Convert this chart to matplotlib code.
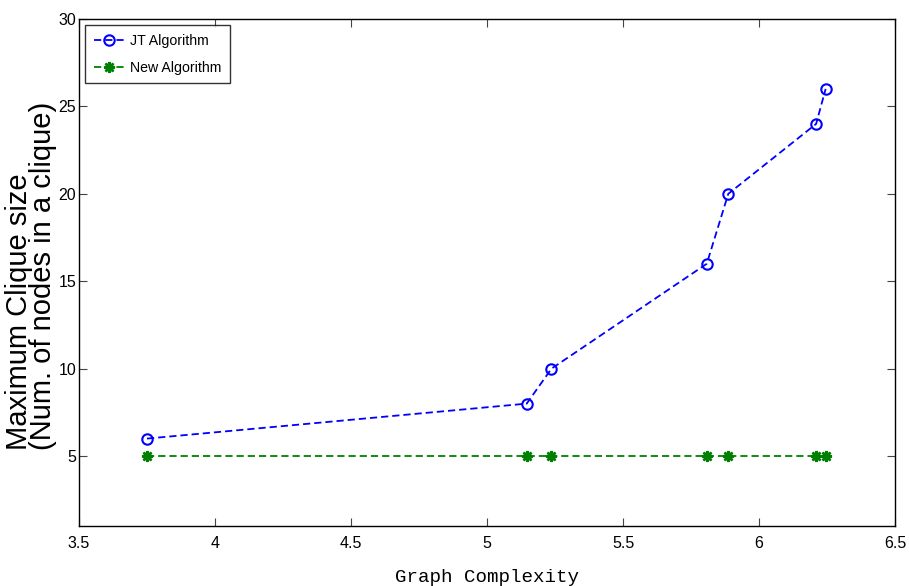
import matplotlib
matplotlib.use("Agg")
import matplotlib.pyplot as plt
from matplotlib import font_manager as fm

graph_complexity = [3.75, 5.146, 5.237, 5.808, 5.887, 6.21, 6.245]
jt_algorithm = [6, 8, 10, 16, 20, 24, 26]
new_algorithm = [5, 5, 5, 5, 5, 5, 5]
x_ticks = [3.5, 4, 4.5, 5, 5.5, 6, 6.5]
x_tick_labels = ["3.5", "4", "4.5", "5", "5.5", "6", "6.5"]
y_ticks = [5, 10, 15, 20, 25, 30]
y_tick_labels = ["5", "10", "15", "20", "25", "30"]

names = {f.name for f in fm.fontManager.ttflist}
narrow = "Liberation Sans Narrow" if "Liberation Sans Narrow" in names else "Liberation Sans"

W, H = 909, 586
fig = plt.figure(figsize=(W / 100, H / 100), dpi=100)
ax = fig.add_axes([79 / W, 1 - 526 / H, (895 - 79) / W, (526 - 19) / H])

ax.plot(graph_complexity, jt_algorithm, color=(0, 0, 1), linestyle=(0, (4, 2.2)),
        linewidth=1.3, marker="o", markersize=7.5, markerfacecolor="none",
        markeredgewidth=1.5, label="JT Algorithm")
ax.plot(graph_complexity, new_algorithm, color=(0, 0.5, 0), linestyle=(0, (4, 2.2)),
        linewidth=1.3, marker=(8, 2, 0), markersize=8,
        markeredgewidth=1.8, label="New Algorithm")

ax.set_xlim(3.5, 6.5)
ax.set_ylim(1, 30)
ax.set_xticks(x_ticks)
ax.set_xticklabels(x_tick_labels, family="Liberation Sans", fontsize=11.5)
ax.set_yticks(y_ticks)
ax.set_yticklabels(y_tick_labels, family="Liberation Sans", fontsize=11.5)
ax.tick_params(direction="in", length=6, width=0.8, color="#444444",
               top=True, right=True, pad=7)
ax.tick_params(axis="y", pad=2)
for s in ax.spines.values():
    s.set_linewidth(1.0)
    s.set_color("black")

fig.text(487 / W, 1 - 578 / H, "Graph Complexity", family="Liberation Mono",
         fontsize=13.8, ha="center", va="center")
fig.text(31 / W, 1 - 276 / H, "Maximum Clique size\n(Num. of nodes in a clique)",
         family="Liberation Sans", fontsize=21, rotation=90, ha="center",
         va="center", multialignment="left", linespacing=0.86)

leg = ax.legend(loc="upper left", bbox_to_anchor=(6 / (895 - 79), 1 - 6 / 507),
                prop={"family": narrow, "size": 10.2}, frameon=True, fancybox=False,
                edgecolor="black", borderaxespad=0, handlelength=2.2,
                handletextpad=0.4, borderpad=0.6, labelspacing=0.95)
leg.get_frame().set_linewidth(1.0)

fig.savefig("out.png", dpi=100)
